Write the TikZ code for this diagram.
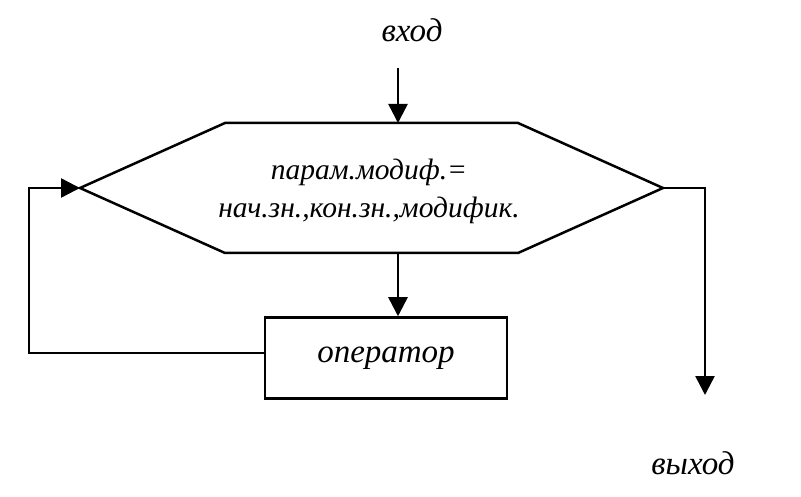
\documentclass[tikz,border=0pt]{standalone}
\usepackage{fontspec}
\setmainfont{Liberation Serif}
\usetikzlibrary{arrows.meta,positioning}

\begin{document}
\begin{tikzpicture}[
  x=1pt,y=-1pt,
  line width=2.5pt,
  lbl/.style={font=\itshape\fontsize{33}{38}\selectfont,align=center},
  cnd/.style={font=\itshape\fontsize{29.5}{38}\selectfont,align=center},
  oper/.style={draw,lbl,minimum width=242pt,minimum height=81pt},
  arr/.style={-{Triangle[length=19pt,width=19pt]}}
]
\useasboundingbox (0,0) rectangle (801,497);
% loop header (hexagon)
\coordinate (hl) at (80,188);
\coordinate (hr) at (663,188);
\coordinate (ht) at (398,123);
\coordinate (hb) at (398,253);
\draw (hl) -- (225,123) -- (518,123) -- (hr) -- (518,253) -- (225,253) -- cycle;
\node[cnd] (cond) at (369,191) {парам.модиф.=\\нач.зн.,кон.зн.,модифик.};
\node[oper] (op) at (386,358) {оператор};
\node[lbl] (in) at (412,30) {вход};
\node[lbl] (outlbl) at (693,463) {выход};
\coordinate (inend) at (398,68);
\coordinate (out) at (705,395);
\draw[arr] (inend) -- (ht);
\draw[arr] (hb) -- (hb |- op.north);
\draw[arr] ([yshift=5pt]op.west) -- ++(-235,0) |- (hl);
\draw[arr] (hr) -| (out);
\end{tikzpicture}
\end{document}
